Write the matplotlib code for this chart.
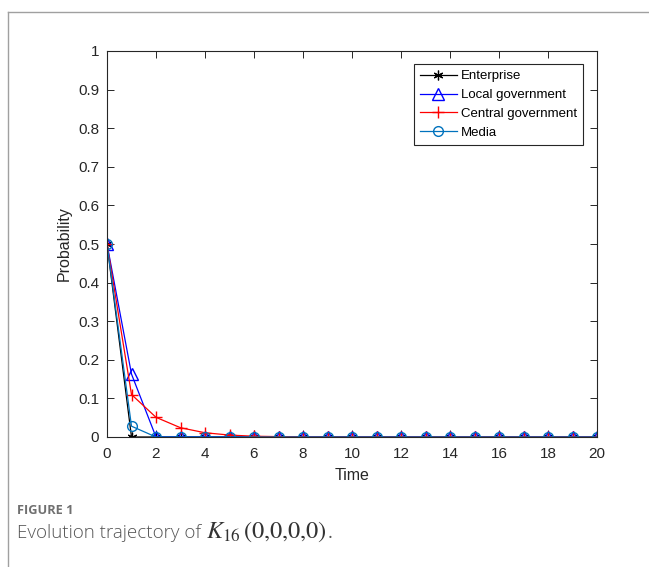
import matplotlib.pyplot as plt
from matplotlib.lines import Line2D

plt.rcParams['font.family'] = ['Liberation Sans', 'DejaVu Sans']
plt.rcParams['mathtext.fontset'] = 'stix'

# time steps and trajectories
time = list(range(0, 21))
enterprise = [0.5] + [0.0] * 20
local_gov = [0.5, 0.163] + [0.0] * 19
central_gov = [0.5, 0.11, 0.051, 0.024, 0.011, 0.005, 0.002, 0.001] + [0.0] * 13
media = [0.5, 0.028] + [0.0] * 19

fig = plt.figure(figsize=(6.49, 5.67), dpi=100)
ax = fig.add_axes([107 / 649, 1 - 437 / 567, 490 / 649, 386 / 567])

ax.plot(time, enterprise, color='k', marker=(6, 2, 0), ms=7, mew=0.9, lw=0.9, label='Enterprise')
ax.plot(time, local_gov, color='b', marker='^', ms=8, mfc='none', lw=0.9, label='Local government')
ax.plot(time, central_gov, color='r', marker='+', ms=8, lw=0.9, label='Central government')
ax.plot(time, media, color='#0072BD', marker='o', ms=7, mfc='none', lw=0.9, label='Media')

ax.set_xlim(0, 20)
ax.set_ylim(0, 1)
ax.set_xticks(range(0, 21, 2))
ax.set_yticks([i / 10 for i in range(11)])
ax.set_yticklabels(['0', '0.1', '0.2', '0.3', '0.4', '0.5', '0.6', '0.7', '0.8', '0.9', '1'])
ax.tick_params(direction='in', top=True, right=True, labelsize=11, length=5,
               width=0.7, colors='#262626')
ax.tick_params(axis='x', pad=7.5)
ax.tick_params(axis='y', pad=5.5)
for s in ax.spines.values():
    s.set_linewidth(0.8)
    s.set_color('#262626')
ax.set_xlabel('Time', fontsize=11.5, color='#262626', labelpad=5)
ax.set_ylabel('Probability', fontsize=11.5, color='#262626', labelpad=5)

leg = ax.legend(loc='upper right', fontsize=9.5, fancybox=False, framealpha=1,
                edgecolor='#262626', borderpad=0.45, labelspacing=0.5,
                handlelength=2.8, handletextpad=0.3, borderaxespad=0,
                bbox_to_anchor=(0.971, 0.966))
leg.get_frame().set_linewidth(0.8)

# page frame around the figure
fig.add_artist(Line2D([8 / 649, 1], [1 - 12 / 567, 1 - 12 / 567], color='#a0a0a0', lw=1))
fig.add_artist(Line2D([8 / 649, 8 / 649], [0, 1 - 12 / 567], color='#a0a0a0', lw=1))

fig.text(17 / 649, 1 - 510 / 567, 'FIGURE 1', fontsize=9.2, fontweight='bold',
         color='#707070', family=['Open Sans', 'DejaVu Sans'], va='center')
cap = fig.text(17 / 649, 1 - 538 / 567, 'Evolution trajectory of', fontsize=13.5,
               fontweight='light', color='#555555', family=['Open Sans', 'DejaVu Sans'],
               va='baseline')
# place the formula right after the plain caption text
renderer = fig.canvas.get_renderer()
bb = cap.get_window_extent(renderer)
fig.text((bb.x1 + 5) / 649, 1 - 538 / 567, r'$K_{16}\,(0{,}0{,}0{,}0)$',
         fontsize=17.5, color='#333333', va='baseline')
bb2 = fig.texts[-1].get_window_extent(renderer)
fig.text((bb2.x1 + 1) / 649, 1 - 538 / 567, '.', fontsize=13.5, color='#555555',
         family=['Open Sans', 'DejaVu Sans'], va='baseline')

fig.savefig('out.png', dpi=100)
